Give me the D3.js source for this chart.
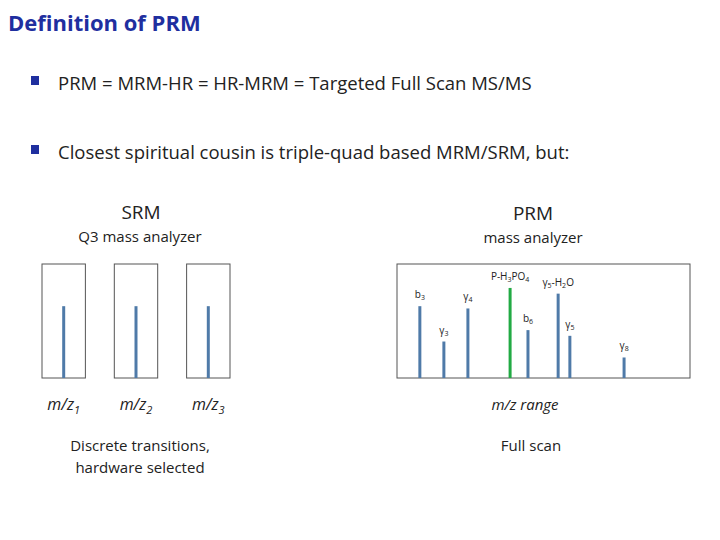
<!DOCTYPE html><html><head><meta charset="utf-8">
<script src="https://d3js.org/d3.v7.min.js"></script>
<style>body{margin:0;background:#fff}</style></head><body>
<script>
const srmChannels = ["1","2","3"];
const srmIntensity = [63, 63, 63];
const prmLabels = ["b3","y3","y4","P-H3PO4","b6","y5-H2O","y5","y8"];
const prmMz = [7.8, 16, 24.2, 38.6, 44.7, 55, 59, 77.5];
const prmIntensity = [63, 32, 61, 79, 42, 74, 37, 18];
const prmColor = ["#4f7aa8","#4f7aa8","#4f7aa8","#22aa44","#4f7aa8","#4f7aa8","#4f7aa8","#4f7aa8"];

const W=720,H=540,font="'Open Sans', 'Liberation Sans', sans-serif";
const svg=d3.select("body").append("svg").attr("width",W).attr("height",H).style("font-family",font);
svg.append("text").attr("x",8).attr("y",31).attr("fill","#1f2f9f").attr("font-size",22).attr("font-weight","bold").text("Definition of PRM");
[["PRM = MRM-HR = HR-MRM = Targeted Full Scan MS/MS",90],["Closest spiritual cousin is triple-quad based MRM/SRM, but:",159]].forEach(([t,y])=>{
  svg.append("rect").attr("x",31).attr("y",y-14).attr("width",8).attr("height",9).attr("fill","#1f2f9f");
  svg.append("text").attr("x",58).attr("y",y).attr("font-size",18.5).attr("fill","#222").text(t);
});
function ct(t,x,y,s,it){return svg.append("text").attr("x",x).attr("y",y).attr("text-anchor","middle").attr("font-size",s).attr("fill","#222").attr("font-style",it?"italic":null).text(t);}
ct("SRM",141,219,19);ct("Q3 mass analyzer",140,242,15);
ct("PRM",533,220,19);ct("mass analyzer",533,243,15);
ct("Discrete transitions,",140,451,15);ct("hardware selected",140,473,15);
ct("Full scan",531,451,15);ct("m/z range",525,410,15,true);

const boxX=d3.scaleBand().domain(srmChannels).range([42,230]).paddingInner(0.4);
const y=d3.scaleLinear().domain([0,100]).range([378,264]);
srmChannels.forEach((c,i)=>{
  const x0=boxX(c),bw=boxX.bandwidth();
  svg.append("rect").attr("x",x0).attr("y",y(100)).attr("width",bw).attr("height",y(0)-y(100)).attr("fill","none").attr("stroke","#555").attr("stroke-width",1);
  svg.append("line").attr("x1",x0+bw/2).attr("x2",x0+bw/2).attr("y1",y(0)).attr("y2",y(srmIntensity[i])).attr("stroke","#4f7aa8").attr("stroke-width",3);
  const t=svg.append("text").attr("x",x0+bw/2).attr("y",410).attr("text-anchor","middle").attr("font-size",16).attr("font-style","italic").attr("fill","#222");
  t.append("tspan").text("m/z");t.append("tspan").attr("font-size",11).attr("dy",4).text(c);
});

const x=d3.scaleLinear().domain([0,100]).range([397,690]);
svg.append("rect").attr("x",x(0)).attr("y",y(100)).attr("width",x(100)-x(0)).attr("height",y(0)-y(100)).attr("fill","none").attr("stroke","#555");
prmMz.forEach((m,i)=>{
  svg.append("line").attr("x1",x(m)).attr("x2",x(m)).attr("y1",y(0)).attr("y2",y(prmIntensity[i])).attr("stroke",prmColor[i]).attr("stroke-width",3);
  const t=svg.append("text").attr("x",x(m)).attr("y",y(prmIntensity[i])-8).attr("text-anchor","middle").attr("font-size",10).attr("fill","#222");
  let prevDigit=false;
  prmLabels[i].match(/[A-Za-z\-]+|\d+/g).forEach(p=>{
    if(/^\d+$/.test(p)){t.append("tspan").attr("font-size",7).attr("dy",2).text(p);prevDigit=true;}
    else{t.append("tspan").attr("dy",prevDigit?-2:0).text(p.replace(/^y/,"γ").replace(/-y/,"-γ"));prevDigit=false;}
  });
});
</script></body></html>
